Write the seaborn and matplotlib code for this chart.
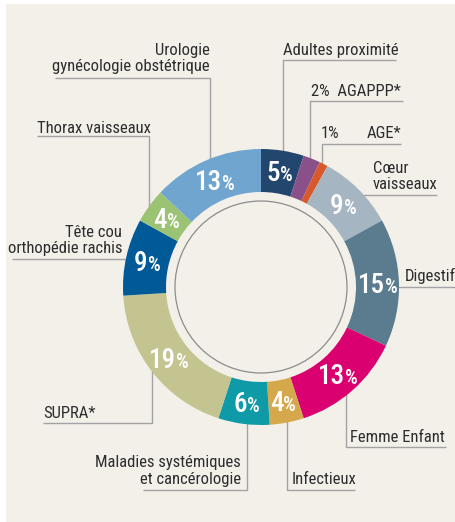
import numpy as np
import matplotlib
matplotlib.use("Agg")
import matplotlib.pyplot as plt
from matplotlib.patches import Rectangle, Circle
import seaborn as sns

# clockwise from 12 o'clock
categories = [
    "Adultes proximité",
    "AGAPPP*",
    "AGE*",
    "Cœur\nvaisseaux",
    "Digestif",
    "Femme Enfant",
    "Infectieux",
    "Maladies systémiques\net cancérologie",
    "SUPRA*",
    "Tête cou\northopédie rachis",
    "Thorax vaisseaux",
    "Urologie\ngynécologie obstétrique",
]
shares = [5, 2, 1, 9, 15, 13, 4, 6, 19, 9, 4, 13]
seg_colors = [
    "#23466f", "#8a5089", "#d85a2c", "#a5b5c2", "#5b7b8f", "#da006f",
    "#d6a84c", "#0e9aa7", "#c4c491", "#005a97", "#9cc274", "#70a5d0",
]

W, H = 455, 522
CX, CY = 261, 287          # donut centre (px, from top-left)
R_OUT, R_IN = 138, 95
BG = "#f3f0ea"
TXT = "#2d2d2d"
LINE = "#a3a3a3"

sns.set_theme(style="white")
plt.rcParams["font.family"] = ["Roboto Condensed", "Archivo Narrow", "DejaVu Sans"]

fig = plt.figure(figsize=(W / 100, H / 100), dpi=100)
fig.patch.set_facecolor("white")
ax = fig.add_axes([0, 0, 1, 1])


def P(x, y):
    # pixel coords -> data coords (y up)
    return x, H - y


def ring_y(x, side):
    d = np.sqrt(R_OUT ** 2 - (x - CX) ** 2)
    return CY - d + 4 if side == "top" else CY + d - 4


def ring_x(y, side):
    d = np.sqrt(R_OUT ** 2 - (y - CY) ** 2)
    return CX + d - 4 if side == "right" else CX - d + 4


ax.add_patch(Rectangle((6, 0), W - 6, H - 4, facecolor=BG, edgecolor="none", zorder=0))

wedges, _ = ax.pie(
    shares,
    colors=sns.color_palette(seg_colors),
    radius=R_OUT,
    center=P(CX, CY),
    startangle=90,
    counterclock=False,
    wedgeprops=dict(width=R_OUT - R_IN, linewidth=0, zorder=2),
)
ax.add_patch(Circle(P(CX, CY), 86, fill=False, edgecolor="#8c8c8c", linewidth=0.9, zorder=2))

ax.set_xlim(0, W)
ax.set_ylim(0, H)
ax.set_aspect("equal")
ax.axis("off")

# percentages inside the ring, number + smaller "%" on one baseline
fig.canvas.draw()
renderer = fig.canvas.get_renderer()
r_mid = (R_OUT + R_IN) / 2
for w, s in zip(wedges, shares):
    if s < 4:
        continue
    a = np.deg2rad((w.theta1 + w.theta2) / 2)
    px = CX + r_mid * np.cos(a)
    py = CY - r_mid * np.sin(a)
    base = py + 9.5
    tn = ax.text(*P(px, base), str(s), ha="left", va="baseline",
                 color="white", fontsize=19.5, fontweight="medium", zorder=3)
    tp = ax.text(*P(px, base), "%", ha="left", va="baseline",
                 color="white", fontsize=14.5, fontweight="medium", zorder=3)
    wn = tn.get_window_extent(renderer).width
    wp = tp.get_window_extent(renderer).width
    gap = 0
    left = px - (wn + gap + wp) / 2
    tn.set_x(left)
    tp.set_x(left + wn + gap)

# outside labels: (text lines, x, baselines, ha)
lab = dict(zip(categories, shares))
labels = [
    (categories[11].split("\n"), 210, [55, 71], "right"),
    ([categories[0]], 283, [55], "left"),
    ([f"{lab['AGAPPP*']}%  AGAPPP*"], 311, [96], "left"),
    ([f"{lab['AGE*']}%"], 321, [138], "left"),
    (["AGE*"], 401, [138], "right"),
    (categories[3].split("\n"), 373, [173, 189], "left"),
    ([categories[4]], 405, [281], "left"),
    ([categories[5]], 350, [442], "left"),
    ([categories[6]], 292, [484], "left"),
    (categories[7].split("\n"), 241, [467, 484], "right"),
    ([categories[8]], 43, [418], "left"),
    (categories[9].split("\n"), 122, [237, 253], "right"),
    ([categories[10]], 37, [133], "left"),
]
for lines, x, bases, ha in labels:
    for t, b in zip(lines, bases):
        ax.text(*P(x, b), t, ha=ha, va="baseline", color=TXT, fontsize=12, zorder=3)

leaders = [
    [(55, 78), (210, 78), (210, ring_y(210, "top"))],
    [(396, 60), (283, 60), (283, ring_y(283, "top"))],
    [(403, 101), (310, 101), (310, ring_y(310, "top"))],
    [(401, 144), (322, 144), (322, ring_y(322, "top"))],
    [(437, 195), (ring_x(195, "right"), 195)],
    [(455, 287), (ring_x(287, "right"), 287)],
    [(446, 447), (346, 447), (346, ring_y(346, "bottom"))],
    [(355, 490), (287, 490), (287, ring_y(287, "bottom"))],
    [(143, 490), (247, 490), (247, ring_y(247, "bottom"))],
    [(43, 423), (152, 423), (152, ring_y(152, "bottom"))],
    [(12, 259), (ring_x(259, "left"), 259)],
    [(37, 136), (149, 136), (149, ring_y(149, "top"))],
]
for pts in leaders:
    xs = [p[0] for p in pts]
    ys = [H - p[1] for p in pts]
    ax.plot(xs, ys, color=LINE, linewidth=1.0, solid_capstyle="butt", zorder=1)

fig.savefig("out.png", dpi=100, facecolor="white")
